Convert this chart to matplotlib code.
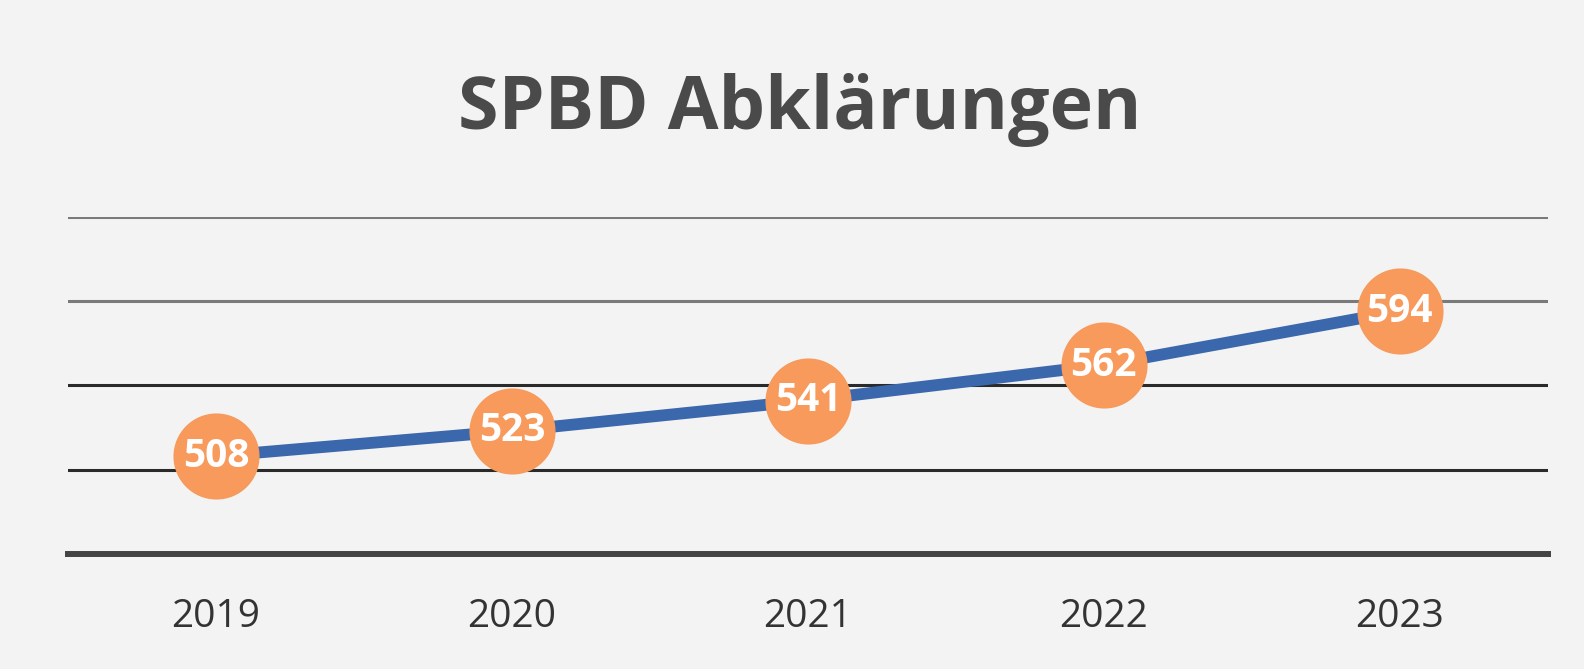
import matplotlib.pyplot as plt

years = ['2019', '2020', '2021', '2022', '2023']
abklaerungen = [508, 523, 541, 562, 594]
grid_values = [500, 550, 600, 650]

fig = plt.figure(figsize=(15.84, 6.69), dpi=100, facecolor='#f3f3f3')
ax = fig.add_axes([0.043, 0.172, 0.934, 0.504])
ax.set_facecolor('#f3f3f3')

x = list(range(len(years)))

# Gitterlinien: obere heller (wie im Scan)
for v in grid_values:
    col = '#7a7a7a' if v >= 600 else '#2a2a2a'
    ax.axhline(v, color=col, lw=2.2, zorder=1)

ax.plot(x, abklaerungen, color='#3b67ad', lw=8.5, solid_capstyle='butt', zorder=2)
ax.plot(x, abklaerungen, 'o', ms=61, color='#f79a5b', mec='#f79a5b', zorder=3)

for xi, v in zip(x, abklaerungen):
    ax.text(xi, v, str(v), ha='center', va='center', color='white',
            fontsize=28, fontweight='bold', family='Open Sans', zorder=4)

ax.set_xlim(-0.5, 4.5)
ax.set_ylim(450, 650)
ax.set_xticks(x)
ax.set_xticklabels(years, fontsize=28, color='#333333', family='Open Sans')
ax.tick_params(axis='x', length=0, pad=32)
ax.set_yticks([])

for side in ['top', 'right', 'left']:
    ax.spines[side].set_visible(False)
ax.spines['bottom'].set_color('#444444')
ax.spines['bottom'].set_linewidth(4.3)

fig.text(0.505, 0.835, 'SPBD Abklärungen', ha='center', va='center',
         fontsize=53, fontweight='bold', color='#4a4a4a', family='Open Sans')

fig.savefig('out.png', dpi=100, facecolor=fig.get_facecolor())
